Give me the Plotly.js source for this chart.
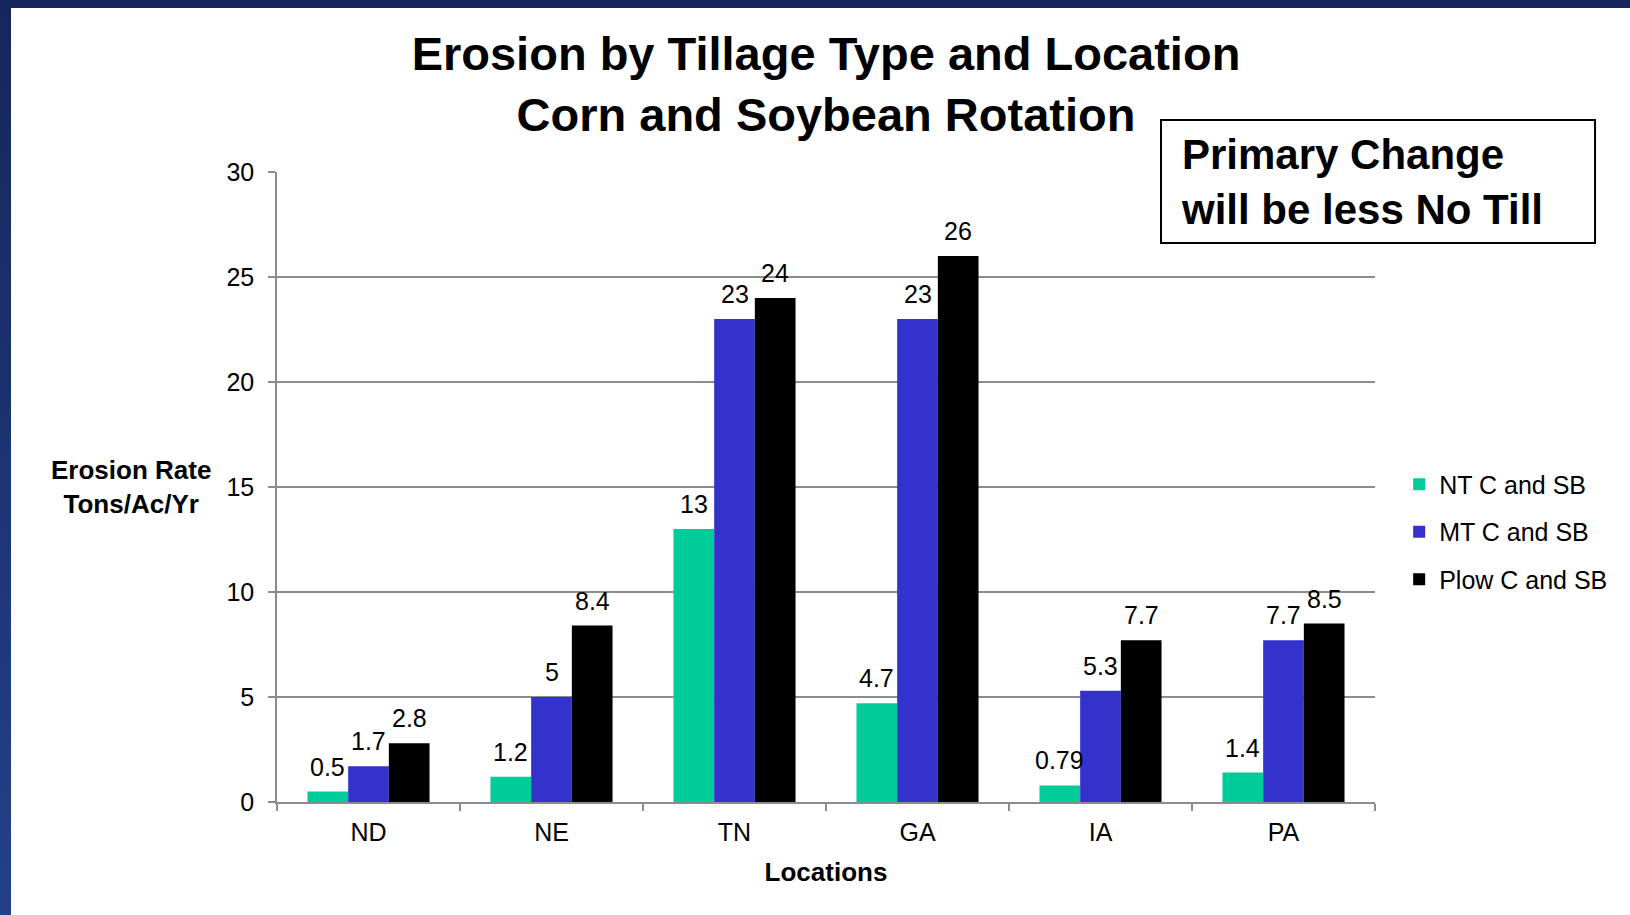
<!DOCTYPE html>
<html>
<head>
<meta charset="utf-8">
<script src="https://cdn.plot.ly/plotly-3.0.1.min.js"></script>
<style>
  html, body { margin: 0; padding: 0; background: #ffffff; }
  #chart { position: absolute; left: 0; top: 0; width: 1630px; height: 915px; }
  #topbar { position: absolute; left: 0; top: 0; width: 1630px; height: 8px; background: #16265c; z-index: 5; }
  #leftbar { position: absolute; left: 0; top: 0; width: 11px; height: 915px; background: linear-gradient(#16265c, #22418a); z-index: 5; }
</style>
</head>
<body>
<div id="chart"></div>
<div id="topbar"></div>
<div id="leftbar"></div>
<script>
const locations = ["ND", "NE", "TN", "GA", "IA", "PA"];
const seriesNames = ["NT C and SB", "MT C and SB", "Plow C and SB"];
const ntValues = [0.5, 1.2, 13, 4.7, 0.79, 1.4];
const mtValues = [1.7, 5, 23, 23, 5.3, 7.7];
const plowValues = [2.8, 8.4, 24, 26, 7.7, 8.5];
const yTicks = [0, 5, 10, 15, 20, 25, 30];

const FONT = "Liberation Sans, Arial, Helvetica, sans-serif";
const colors = ["#00cc99", "#3333cc", "#000000"];
const allValues = [ntValues, mtValues, plowValues];

const W = 1630, H = 915;
const margin = { l: 277, r: 255, t: 172, b: 113 };
const BARGAP = 0.333;
const plotW = W - margin.l - margin.r;
const barPx = plotW / locations.length * (1 - BARGAP) / allValues.length;

const traces = allValues.map((vals, i) => ({
  type: "bar",
  name: seriesNames[i],
  x: locations,
  y: vals,
  marker: { color: colors[i], line: { width: 0 } },
  legendgroup: "g" + i,
  hoverinfo: "x+y+name"
}));

// value labels above each bar, positioned by the axes from the data arrays
const valueLabels = [];
allValues.forEach((vals, i) => {
  vals.forEach((v, j) => {
    valueLabels.push({
      xref: "x", yref: "y",
      x: locations[j], y: v,
      text: String(v),
      showarrow: false,
      xanchor: "center", yanchor: "bottom",
      xshift: (i - (allValues.length - 1) / 2) * barPx,
      yshift: 9,
      font: { family: FONT, size: 25, color: "#000000" }
    });
  });
});

const layout = {
  width: W,
  height: H,
  paper_bgcolor: "#ffffff",
  plot_bgcolor: "#ffffff",
  margin: margin,
  barmode: "group",
  bargap: BARGAP,
  bargroupgap: 0,
  font: { family: FONT, color: "#000000" },
  showlegend: true,
  title: {
    text: "<b>Erosion by Tillage Type and Location<br>Corn and Soybean Rotation</b>",
    font: { family: FONT, size: 47, color: "#000000" },
    xref: "paper",
    x: 0.5,
    xanchor: "center",
    yref: "container",
    y: 1 - 70 / 915,
    yanchor: "top"
  },
  xaxis: {
    type: "category",
    tickson: "boundaries",
    ticks: "outside",
    ticklen: 7,
    tickwidth: 1.5,
    tickcolor: "#8c8c8c",
    ticklabelstandoff: 7,
    showline: true,
    linecolor: "#8c8c8c",
    linewidth: 1.5,
    showgrid: false,
    tickfont: { family: FONT, size: 25, color: "#000000" },
    title: {
      text: "<b>Locations</b>",
      font: { family: FONT, size: 26, color: "#000000" },
      standoff: 18
    },
    automargin: false
  },
  yaxis: {
    range: [0, 30],
    tickvals: yTicks,
    ticktext: yTicks.map(String),
    ticks: "outside",
    ticklen: 7,
    tickwidth: 1.5,
    tickcolor: "#8c8c8c",
    ticklabelstandoff: 9,
    showline: true,
    linecolor: "#8c8c8c",
    linewidth: 1.5,
    showgrid: true,
    gridcolor: "#8c8c8c",
    gridwidth: 1.5,
    zeroline: false,
    tickfont: { family: FONT, size: 25, color: "#000000" },
    automargin: false
  },
  legend: {
    x: 1.022,
    xanchor: "left",
    y: 0.4286,
    yanchor: "middle",
    traceorder: "grouped",
    tracegroupgap: 12,
    font: { family: FONT, size: 25, color: "#000000" },
    bgcolor: "rgba(0,0,0,0)"
  },
  annotations: valueLabels.concat([
    {
      xref: "paper", yref: "y",
      x: -0.133, y: 15,
      xanchor: "center", yanchor: "middle",
      text: "<b>Erosion Rate<br>Tons/Ac/Yr</b>",
      showarrow: false,
      align: "center",
      font: { family: FONT, size: 26, color: "#000000" }
    },
    {
      xref: "paper", yref: "paper",
      x: 0.8215, y: 0.984,
      xanchor: "left", yanchor: "middle",
      text: "<b>Primary Change<br>will be less No Till</b>",
      showarrow: false,
      align: "left",
      font: { family: FONT, size: 42, color: "#000000" }
    }
  ]),
  shapes: [
    {
      type: "rect",
      xref: "paper", yref: "paper",
      x0: 0.8051, x1: 1.2004,
      y0: 0.8873, y1: 1.0825,
      line: { color: "#000000", width: 2 },
      fillcolor: "rgba(0,0,0,0)"
    }
  ]
};

Plotly.newPlot("chart", traces, layout, { displayModeBar: false, responsive: false });
</script>
</body>
</html>
